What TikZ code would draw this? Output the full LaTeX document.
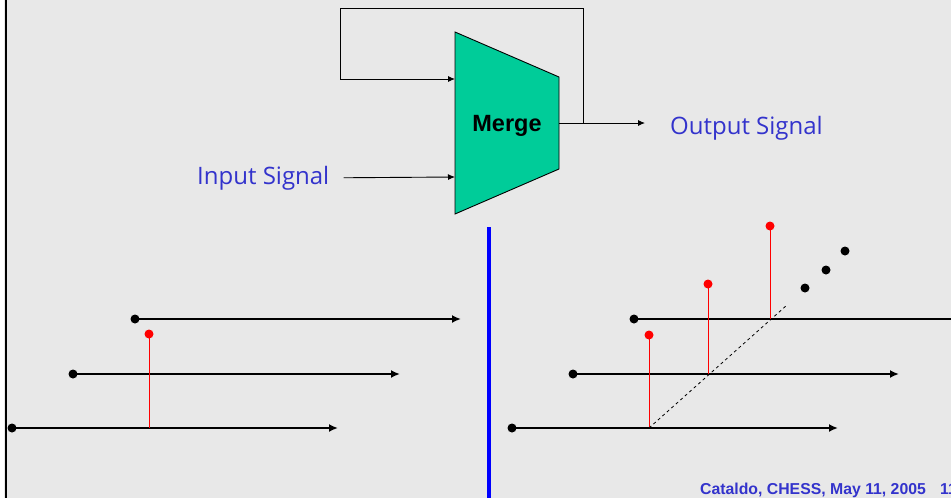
\documentclass[tikz,border=0pt]{standalone}
\usepackage{fontspec}
\setmainfont{Liberation Sans}
\newfontfamily\signalfont{Open Sans}
\usetikzlibrary{arrows.meta, positioning}
\definecolor{slidebg}{HTML}{E8E8E8}
\definecolor{mergegreen}{HTML}{00CC99}
\definecolor{labelblue}{HTML}{3333CC}
\tikzset{
  wire/.style={line width=0.9pt, -{Latex[length=7pt,width=6pt]}},
  axis/.style={line width=2.8pt, -{Latex[length=9pt,width=8pt]}},
  tick/.style={circle, fill=black, inner sep=0pt, minimum size=9pt},
  event/.style={circle, fill=red, inner sep=0pt, minimum size=9pt},
  stem/.style={red, line width=1pt},
  siglabel/.style={font=\signalfont\fontsize{24}{28}\selectfont, text=labelblue, inner sep=0pt}
}

\begin{document}
\begin{tikzpicture}[x=1pt, y=-1pt]
    \useasboundingbox (0,0) rectangle (951,498);
    \fill[slidebg] (0,0) rectangle (951,498);
    \fill[white] (0,0) rectangle (4,498);
    \draw[line width=2.5pt] (6,0) -- (6,498);

    % Merge actor
    \coordinate (mtl) at (455,32);
    \coordinate (mtr) at (559,77);
    \coordinate (mbr) at (559,169);
    \coordinate (mbl) at (455,214);
    \filldraw[fill=mergegreen, draw=black, line width=0.9pt] (mtl) -- (mtr) -- (mbr) -- (mbl) -- cycle;
    \node[font=\bfseries\fontsize{23.5}{27}\selectfont, anchor=base] (merge) at (507,131.5) {Merge};
    \coordinate (min1) at (455,79);
    \coordinate (min2) at (455,177);
    \coordinate (mout) at (559,123);
    \coordinate (tap) at (583,123);
    \coordinate (outend) at (645,123);

    % Labels
    \node[siglabel, anchor=base west] (insig) at (197,184) {Input Signal};
    \node[siglabel, anchor=base west] (outsig) at (670,134) {Output Signal};

    % Arrows
    \draw[wire] (insig.east) ++(14,0) coordinate (instart) -- (min2);
    \draw[line width=0.9pt] (mout) -- (tap);
    \draw[wire] (tap) -- (outend);
    \draw[wire] (tap) |- (340,8) |- (min1);

    % Divider
    \draw[blue, line width=4pt] (489,227) -- (489,498);

    % Left timelines
    \node[tick] (la) at (135,319) {};
    \node[tick] (lb) at (73,374) {};
    \node[tick] (lc) at (12,428) {};
    \coordinate (lae) at (461,319);
    \coordinate (lbe) at (400,374);
    \coordinate (lce) at (338,428);
    \draw[axis] (la.center) -- (lae);
    \draw[axis] (lb.center) -- (lbe);
    \draw[axis] (lc.center) -- (lce);
    \coordinate (ls) at (149,428);
    \node[event] (le) at (149,334) {};
    \draw[stem] (ls) -- (le.center);

    % Right timelines
    \node[tick] (ra) at (634,319) {};
    \node[tick] (rb) at (573,374) {};
    \node[tick] (rc) at (512,428) {};
    \coordinate (rae) at (960,319);
    \coordinate (rbe) at (899,374);
    \coordinate (rce) at (838,428);
    \draw[line width=2.8pt] (ra.center) -- (rae);
    \draw[axis] (rb.center) -- (rbe);
    \draw[axis] (rc.center) -- (rce);
    \coordinate (rs1) at (649,428);
    \coordinate (rs2) at (708,374);
    \coordinate (rs3) at (770,319);
    \node[event] (re1) at (649,335) {};
    \node[event] (re2) at (708,284) {};
    \node[event] (re3) at (770,226) {};
    \draw[stem] (rs1) -- (re1.center);
    \draw[stem] (rs2) -- (re2.center);
    \draw[stem] (rs3) -- (re3.center);
    \coordinate (diag) at (787,305);
    \draw[dashed, line width=0.8pt, dash pattern=on 3pt off 3pt] (rs1) -- (diag);
    \node[tick] (d1) at (805,288) {};
    \node[tick] (d2) at (826,270) {};
    \node[tick] (d3) at (845,251) {};

    % Footer
    \node[font=\bfseries\fontsize{15.8}{18}\selectfont, text=labelblue, anchor=base west, inner sep=0pt] (footer) at (700,494) {Cataldo, CHESS, May 11, 2005\hspace{0.9em}11};
\end{tikzpicture}
\end{document}
